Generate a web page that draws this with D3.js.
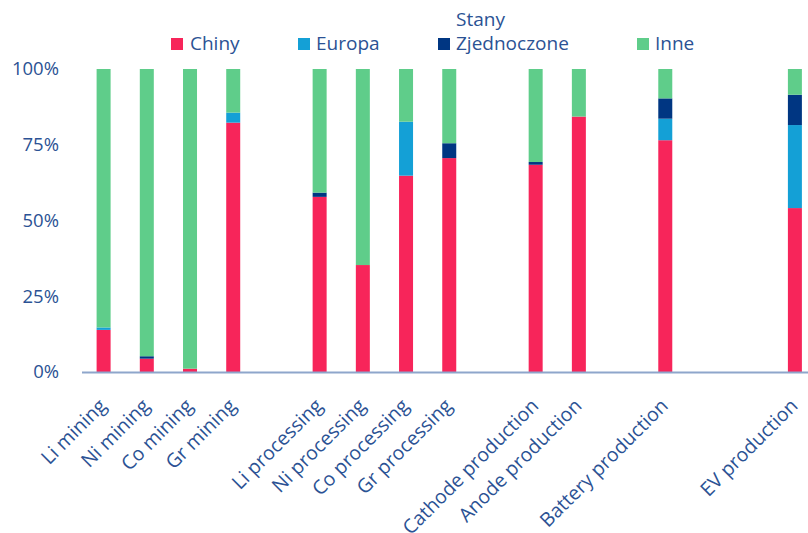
<!DOCTYPE html>
<html><head><meta charset="utf-8">
<script src="https://cdn.jsdelivr.net/npm/d3@7"></script>
<style>
html,body{margin:0;padding:0;background:#fff;}
svg{display:block;font-family:"Open Sans","Noto Sans",sans-serif;}
</style></head>
<body><svg id="c" width="808" height="533"></svg>
<script>
const categories = ["Li mining","Ni mining","Co mining","Gr mining","",
  "Li processing","Ni processing","Co processing","Gr processing","",
  "Cathode production","Anode production","","Battery production","","","EV production"];
const chiny  = [13.9, 4.4, 1.1, 82.3, 0, 57.8, 35.3, 64.8, 70.6, 0, 68.4, 84.3, 0, 76.5, 0, 0, 54.1];
const europa = [0.8, 0, 0, 3.3, 0, 0, 0, 17.8, 0, 0, 0, 0, 0, 7.1, 0, 0, 27.4];
const usa    = [0, 0.8, 0, 0, 0, 1.4, 0, 0, 4.9, 0, 0.9, 0, 0, 6.7, 0, 0, 10.0];
const inne   = [85.3, 94.8, 98.9, 14.4, 0, 40.8, 64.7, 17.4, 24.5, 0, 30.7, 15.7, 0, 9.7, 0, 0, 8.5];
const seriesNames = ["Chiny","Europa","Stany Zjednoczone","Inne"];
const seriesColors = ["#F7255A","#14A0D6","#003682","#5FCD8A"];
const yTicks = [0, 25, 50, 75, 100];

const svg = d3.select("#c");
const textColor = "#2B5294";
const x = d3.scaleBand().domain(d3.range(categories.length)).range([82, 816.5]).paddingInner(0.676).paddingOuter(0.338);
const y = d3.scaleLinear().domain([0, 100]).range([372, 69]);

const rows = categories.map((c, i) => ({i, Chiny: chiny[i], Europa: europa[i], "Stany Zjednoczone": usa[i], Inne: inne[i]}));
const stack = d3.stack().keys(seriesNames)(rows);

svg.append("g").selectAll("g").data(stack).join("g")
  .attr("fill", (d, k) => seriesColors[k])
  .selectAll("rect").data(d => d.filter(p => p[1] - p[0] > 0)).join("rect")
  .attr("x", d => x(d.data.i))
  .attr("width", x.bandwidth())
  .attr("y", d => y(d[1]))
  .attr("height", d => y(d[0]) - y(d[1]));

// baseline
svg.append("line").attr("x1", 82).attr("x2", 808).attr("y1", y(0)+0.5).attr("y2", y(0)+0.5)
  .attr("stroke", "#8EA6CB").attr("stroke-width", 2);

// y axis
const ya = svg.append("g").attr("transform", "translate(59,0)")
  .call(d3.axisLeft(y).tickValues(yTicks).tickFormat(d => d + "%").tickSize(0).tickPadding(0));
ya.select(".domain").remove();
ya.selectAll("text").attr("fill", textColor).attr("font-size", 18.5).attr("font-family", "Open Sans");

// x labels
svg.append("g").selectAll("text").data(categories.map((c, i) => ({c, i})).filter(d => d.c)).join("text")
  .attr("transform", d => `translate(${x(d.i) + x.bandwidth()/2 + 4},${y(0) + 35}) rotate(-45)`)
  .attr("text-anchor", "end")
  .attr("fill", textColor).attr("font-size", 19.5)
  .text(d => d.c);

// legend
const legend = [
  {k: 0, sx: 171, tx: 190, lines: ["Chiny"]},
  {k: 1, sx: 298, tx: 316, lines: ["Europa"]},
  {k: 2, sx: 438, tx: 456, lines: ["Stany", "Zjednoczone"]},
  {k: 3, sx: 637, tx: 655, lines: ["Inne"]}
];
const lg = svg.append("g");
legend.forEach(L => {
  lg.append("rect").attr("x", L.sx).attr("y", 38).attr("width", 12).attr("height", 12).attr("fill", seriesColors[L.k]);
  L.lines.forEach((t, j) => {
    lg.append("text").attr("x", L.tx).attr("y", 50 - (L.lines.length - 1 - j) * 24)
      .attr("fill", textColor).attr("font-size", 19).text(t);
  });
});
</script></body></html>
